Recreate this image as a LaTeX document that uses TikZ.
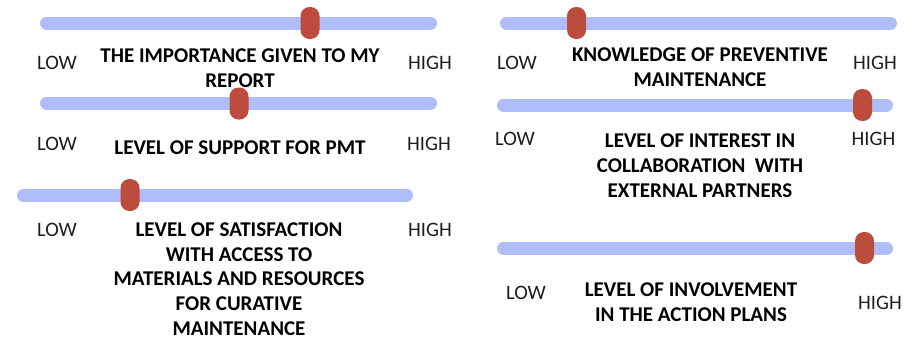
\documentclass[tikz,border=0pt]{standalone}
\usepackage{fontspec}
\setmainfont{Carlito}
\definecolor{barblue}{RGB}{175,190,250}
\definecolor{knobred}{RGB}{190,76,62}
\definecolor{labelgray}{RGB}{30,30,30}
\begin{document}
\begin{tikzpicture}[x=1pt,y=-1pt,
  track/.style={line width=13pt, line cap=round, draw=barblue},
  knob/.style={fill=knobred, draw=none, rounded corners=9pt, minimum width=19pt, minimum height=32pt, inner sep=0pt},
  endlabel/.style={font=\fontsize{20.5}{23}\selectfont, text=labelgray, inner sep=0pt},
  title/.style={font=\fontsize{21}{24.7}\selectfont\bfseries, align=center, inner sep=0pt}]
\useasboundingbox (0,0) rectangle (910,338);

% left column
\coordinate (t1a) at (46.5,23); \coordinate (t1b) at (430.5,23);
\draw[track] (t1a) -- (t1b);
\node[knob] (k1) at (310,23) {};
\node[endlabel] (lo1) at (57,63) {LOW};
\node[endlabel] (hi1) at (430,63) {HIGH};
\node[title] (ti1) at (240,68) {THE IMPORTANCE GIVEN TO MY\\REPORT};

\coordinate (t2a) at (46.5,103); \coordinate (t2b) at (430.5,103);
\draw[track] (t2a) -- (t2b);
\node[knob] (k2) at (239,103.5) {};
\node[endlabel] (lo2) at (57,144) {LOW};
\node[endlabel] (hi2) at (429,144) {HIGH};
\node[title] (ti2) at (240,148) {LEVEL OF SUPPORT FOR PMT};

\coordinate (t3a) at (23.5,195); \coordinate (t3b) at (406.5,195);
\draw[track] (t3a) -- (t3b);
\node[knob] (k3) at (130,195) {};
\node[endlabel] (lo3) at (57,230) {LOW};
\node[endlabel] (hi3) at (430,230) {HIGH};
\node[title] (ti3) at (239,279) {LEVEL OF SATISFACTION\\WITH ACCESS TO\\MATERIALS AND RESOURCES\\FOR CURATIVE\\MAINTENANCE};

% right column
\coordinate (t4a) at (506.5,23); \coordinate (t4b) at (890.5,23);
\draw[track] (t4a) -- (t4b);
\node[knob] (k4) at (576.5,23) {};
\node[endlabel] (lo4) at (517,63) {LOW};
\node[endlabel] (hi4) at (875,63) {HIGH};
\node[title] (ti4) at (700,67.5) {KNOWLEDGE OF PREVENTIVE\\MAINTENANCE};

\coordinate (t5a) at (503.5,105); \coordinate (t5b) at (886.5,105);
\draw[track] (t5a) -- (t5b);
\node[knob] (k5) at (862.5,105) {};
\node[endlabel] (lo5) at (515,139) {LOW};
\node[endlabel] (hi5) at (873.5,139) {HIGH};
\node[title] (ti5) at (700,165.5) {LEVEL OF INTEREST IN\\COLLABORATION~~WITH\\EXTERNAL PARTNERS};

\coordinate (t6a) at (503.5,248); \coordinate (t6b) at (886.5,248);
\draw[track] (t6a) -- (t6b);
\node[knob] (k6) at (864.5,248) {};
\node[endlabel] (lo6) at (526,293) {LOW};
\node[endlabel] (hi6) at (880,303) {HIGH};
\node[title] (ti6) at (691,302.5) {LEVEL OF INVOLVEMENT\\IN THE ACTION PLANS};
\end{tikzpicture}
\end{document}
